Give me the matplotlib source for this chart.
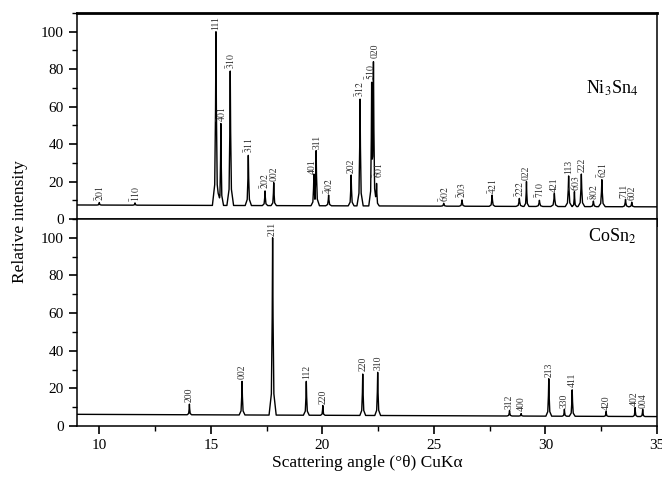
import numpy as np
import matplotlib
matplotlib.use("Agg")
import matplotlib.pyplot as plt
from matplotlib.ticker import MultipleLocator

plt.rcParams['font.family'] = ['Liberation Serif', 'DejaVu Serif']
plt.rcParams['mathtext.fontset'] = 'stix'

# --- Ni3Sn4 peaks (2theta, height, half base width) ---
ni_pos = [10.0, 11.6, 15.23, 15.45, 15.87, 16.68, 17.43, 17.82, 19.62, 19.72, 20.28, 21.29,
          21.69, 22.21, 22.29, 22.43, 25.44, 26.26, 27.61, 28.83, 29.15, 29.73, 30.40,
          31.04, 31.30, 31.61, 32.15, 32.53, 33.59, 33.87]
ni_h = [8.8, 8.6, 100, 51, 79, 34, 15, 19.4, 24, 36.5, 12.8, 23.5,
        64, 73, 84, 19, 8.4, 10.2, 12.8, 11, 20, 10, 13.7,
        23, 14.6, 24, 9.6, 21, 10.5, 9]
ni_w = [0.1, 0.1, 0.16, 0.12, 0.15, 0.14, 0.12, 0.12, 0.13, 0.15, 0.13, 0.13,
        0.14, 0.13, 0.15, 0.12, 0.13, 0.13, 0.13, 0.15, 0.11, 0.15, 0.16,
        0.15, 0.1, 0.15, 0.13, 0.15, 0.13, 0.12]
ni_base_x = [9.0, 35.0]
ni_base_y = [7.5, 6.5]

ni_labels = [r'$\bar{2}01$', r'$\bar{1}10$', '111', r'$\bar{4}01$', r'$\bar{3}10$', r'$\bar{3}11$',
             r'$\bar{2}02$', '002', '401', '311', r'$\bar{4}02$', '202', r'$\bar{3}12$',
             r'$\bar{5}10$', '020', r'$\bar{6}01$', r'$\bar{6}02$', r'$\bar{2}03$', r'$\bar{4}21$',
             r'$\bar{2}22$', '022', r'$\bar{7}10$', '421', '113', r'$\bar{6}03$', '222',
             r'$\bar{8}02$', r'$\bar{6}21$', '711', '602']
ni_lab_x = [10.0, 11.6, 15.23, 15.48, 15.87, 16.68, 17.40, 17.85, 19.56, 19.76, 20.28, 21.29,
            21.69, 22.16, 22.36, 22.52, 25.44, 26.26, 27.61, 28.83, 29.15, 29.73, 30.40,
            31.04, 31.33, 31.64, 32.15, 32.53, 33.53, 33.90]
ni_lab_y = [9.5, 9.3, 101, 52, 80, 35, 16, 20.5, 24, 37.5, 13.5, 24.5,
            65, 74, 86, 22, 9.2, 11, 13.5, 12, 21, 11, 14.5,
            24, 15, 25, 10.3, 22, 11.2, 10]

# --- CoSn2 peaks ---
co_pos = [14.04, 16.40, 17.77, 19.28, 20.02, 21.81, 22.48, 28.39, 28.91, 30.15, 30.85,
          31.20, 32.72, 34.02, 34.36]
co_h = [11.6, 23.7, 100, 23.7, 10.9, 27.6, 28.5, 8.2, 6.6, 25.1, 8.9, 19.2, 7.7, 9.8, 8.9]
co_w = [0.1, 0.13, 0.16, 0.13, 0.1, 0.13, 0.13, 0.11, 0.1, 0.13, 0.1, 0.13, 0.1, 0.1, 0.1]
co_base_x = [9.0, 35.0]
co_base_y = [6.2, 5.0]

co_labels = ['200', '002', '211', '112', '220', '220', '310', '312', '400', '213', '330',
             '411', '420', '402', '004']
co_lab_x = [14.04, 16.40, 17.77, 19.28, 20.02, 21.81, 22.48, 28.39, 28.91, 30.15, 30.85,
            31.20, 32.72, 33.98, 34.40]
co_lab_y = [12.5, 25, 101, 25, 11.8, 29, 30, 9.2, 8.2, 26, 9.8, 20.5, 8.7, 10.8, 9.8]


def pattern(pos, h, w, bx, by):
    # polyline: baseline ends plus a skirted triangle for every peak
    xs = [bx[0], bx[1]]
    for p, ww in zip(pos, w):
        xs += [p - ww, p - 0.35 * ww, p - 0.12 * ww, p, p + 0.12 * ww, p + 0.35 * ww, p + ww]
    xs = np.sort(np.array(xs))
    ys = np.interp(xs, bx, by)
    for p, hh, ww in zip(pos, h, w):
        b = np.interp(p, bx, by)
        px = [p - ww, p - 0.35 * ww, p - 0.12 * ww, p, p + 0.12 * ww, p + 0.35 * ww, p + ww]
        py = [b, b + 0.12 * (hh - b), b + 0.55 * (hh - b), hh,
              b + 0.55 * (hh - b), b + 0.12 * (hh - b), b]
        ys = np.maximum(ys, np.interp(xs, px, py, left=0, right=0))
    return xs, ys


fig = plt.figure(figsize=(6.62, 4.82), dpi=100)
ax1 = fig.add_axes([0.1163, 0.5456, 0.8761, 0.4274])
ax2 = fig.add_axes([0.1163, 0.1162, 0.8761, 0.4295])

x1, y1 = pattern(ni_pos, ni_h, ni_w, ni_base_x, ni_base_y)
x2, y2 = pattern(co_pos, co_h, co_w, co_base_x, co_base_y)
ax1.plot(x1, y1, color='black', lw=1.0)
ax2.plot(x2, y2, color='black', lw=1.0)

for t, x, y in zip(ni_labels, ni_lab_x, ni_lab_y):
    ax1.text(x, y, t, rotation=90, ha='center', va='bottom', fontsize=7,
             color='#333333', clip_on=False)
for t, x, y in zip(co_labels, co_lab_x, co_lab_y):
    ax2.text(x, y, t, rotation=90, ha='center', va='bottom', fontsize=7,
             color='#333333', clip_on=False)

ax1.text(33.0, 70, r'Ni$_3$Sn$_4$', fontsize=13, ha='center', va='center')
ax2.text(33.0, 101, r'CoSn$_2$', fontsize=13, ha='center', va='center')

for ax in (ax1, ax2):
    ax.set_xlim(9, 35)
    ax.set_ylim(0, 110)
    ax.xaxis.set_major_locator(MultipleLocator(5))
    ax.xaxis.set_minor_locator(MultipleLocator(2.5))
    ax.yaxis.set_major_locator(MultipleLocator(20))
    ax.yaxis.set_minor_locator(MultipleLocator(10))
    ax.tick_params(which='major', direction='out', length=6, width=1.2, labelsize=11,
                   top=False, right=False)
    ax.tick_params(which='minor', direction='out', length=3.5, width=1.0,
                   top=False, right=False)
    for s in ax.spines.values():
        s.set_linewidth(1.1)

ax1.spines['top'].set_linewidth(2.0)
ax1.tick_params(axis='x', which='both', labelbottom=False)
ax2.set_xlabel('Scattering angle (°θ) CuKα', fontsize=12.5, labelpad=2)
fig.text(0.03, 0.54, 'Relative intensity', rotation=90, fontsize=12.5,
         ha='center', va='center')

fig.savefig('out.png', dpi=100)
